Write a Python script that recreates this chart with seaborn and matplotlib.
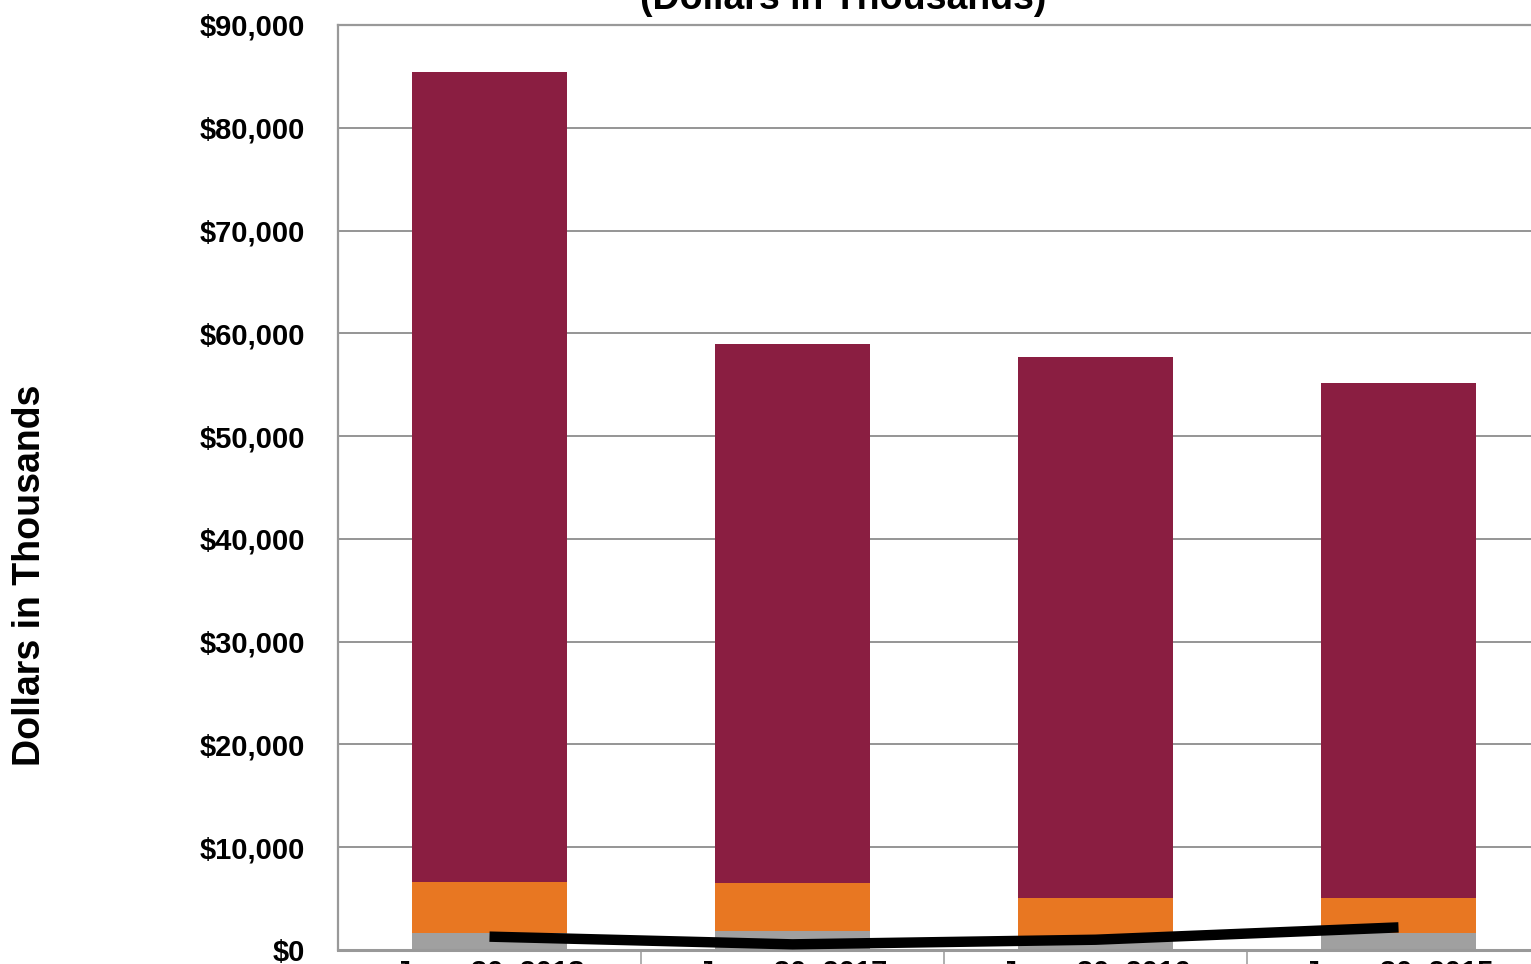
import matplotlib
matplotlib.use("Agg")
import matplotlib.pyplot as plt
import seaborn as sns
import numpy as np
from matplotlib.ticker import FuncFormatter, FixedLocator

# values (dollars in thousands)
dates = ["June 30, 2018", "June 30, 2017", "June 30, 2016", "June 30, 2015"]
gray_part = [1650, 1850, 1250, 1700]
orange_part = [4950, 4650, 3800, 3350]
maroon_part = [78800, 52450, 52650, 50150]
line_values = [1300, 550, 1000, 2200]

sns.set_style("white")
plt.rcParams["font.family"] = ["Liberation Sans", "DejaVu Sans"]
plt.rcParams["font.weight"] = "bold"
plt.rcParams["text.color"] = "black"
plt.rcParams["xtick.color"] = "black"
plt.rcParams["ytick.color"] = "black"

fig = plt.figure(figsize=(15.31, 9.64), dpi=100)
ax = fig.add_axes([338 / 1531, 14 / 964, 1212 / 1531, 925 / 964])

# stacked bars drawn as overlapping cumulative totals
lvl1 = np.array(gray_part)
lvl2 = lvl1 + np.array(orange_part)
lvl3 = lvl2 + np.array(maroon_part)

for heights, col in [(lvl3, "#8A1E41"), (lvl2, "#E87722"), (lvl1, "#A0A0A0")]:
    sns.barplot(x=dates, y=heights, color=col, width=0.51, linewidth=0,
                edgecolor="none", saturation=1, errorbar=None, ax=ax)

sns.pointplot(x=dates, y=line_values, color="black", markers="", linewidth=7.5,
              errorbar=None, ax=ax)
for ln in ax.lines:
    ln.set_solid_capstyle("butt")
    ln.set_zorder(5)

ax.set_xlim(-0.5, 3.5)
ax.set_ylim(0, 90000)
ax.set_yticks(np.arange(0, 90001, 10000))
ax.yaxis.set_major_formatter(FuncFormatter(lambda v, p: f"${v:,.0f}"))
ax.grid(axis="y", color="#8c8c8c", linewidth=1.3)
ax.set_axisbelow(True)

ax.xaxis.set_minor_locator(FixedLocator([0.5, 1.5, 2.5]))
ax.tick_params(axis="x", which="minor", bottom=True, length=20, width=1.1,
               color="#999999", direction="out")
ax.tick_params(axis="x", which="major", length=0, pad=6, labelsize=21,
               labelcolor="black")
ax.tick_params(axis="y", length=0, pad=24, labelsize=21, labelcolor="black")
for lab in ax.get_xticklabels() + ax.get_yticklabels():
    lab.set_fontweight("bold")

for side in ["left", "bottom", "top", "right"]:
    ax.spines[side].set_color("#999999")
    ax.spines[side].set_linewidth(1.6)
ax.spines["bottom"].set_linewidth(2.2)

ax.set_xlabel("")
ax.set_ylabel("")
fig.text(30 / 1531, (964 - 575) / 964, "Dollars in Thousands", rotation=90,
         ha="center", va="center", fontsize=27, fontweight="bold", color="black")
fig.text(843 / 1531, (964 - 9) / 964, "(Dollars in Thousands)", ha="center",
         va="baseline", fontsize=27, fontweight="bold", color="black")

fig.savefig("out.png", dpi=100)
